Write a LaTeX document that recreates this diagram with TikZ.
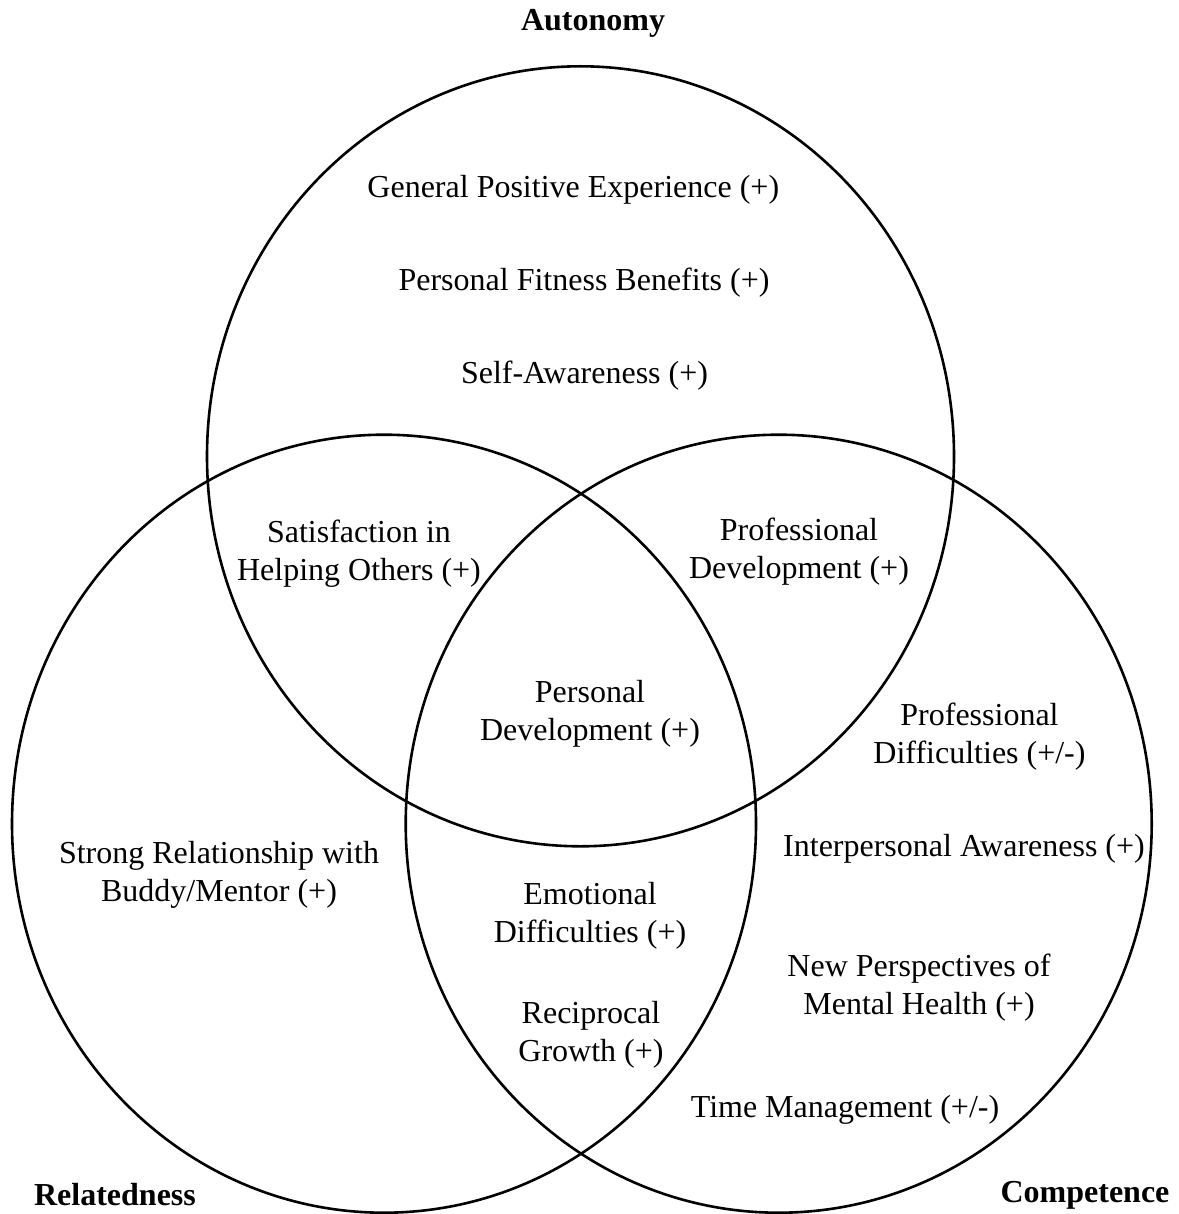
\documentclass[tikz,border=0pt]{standalone}
\usepackage{fontspec}
\setmainfont{Liberation Serif}
\begin{document}
\begin{tikzpicture}[x=1pt,y=-1pt,
  setring/.style={draw=black,line width=2.6pt},
  lbl/.style={inner sep=0pt,align=center,font=\fontsize{32}{38}\selectfont},
  setname/.style={inner sep=0pt,align=center,font=\fontsize{32}{38}\selectfont\bfseries}]
\useasboundingbox (0,0) rectangle (1178,1214);
% sets
\draw[setring] (580.5,456.3) ellipse [x radius=373.5pt, y radius=390pt];
\draw[setring] (384,823.7) ellipse [x radius=372pt, y radius=389pt];
\draw[setring] (778.7,823.7) ellipse [x radius=373pt, y radius=389pt];
% set names
\node[setname] (aut) at (593,23.4) {\strut Autonomy};
\node[setname] (rel) at (115,1197.4) {\strut Relatedness};
\node[setname] (com) at (1085,1194.4) {\strut Competence};
% region labels
\node[lbl] (gpe) at (573.3,189.7) {\strut General Positive Experience (+)};
\node[lbl] (pfb) at (584,283.4) {\strut Personal Fitness Benefits (+)};
\node[lbl] (saw) at (584.5,375.4) {\strut Self-Awareness (+)};
\node[lbl] (sho) at (359,553.9) {\strut Satisfaction in\\\strut Helping Others (+)};
\node[lbl] (prd) at (799,552.3) {\strut Professional\\\strut Development (+)};
\node[lbl] (ped) at (590,713.4) {\strut Personal\\\strut Development (+)};
\node[lbl] (pdi) at (979.5,736.9) {\strut Professional\\\strut Difficulties (+/-)};
\node[lbl] (ipa) at (964,849.1) {\strut Interpersonal Awareness (+)};
\node[lbl] (srb) at (219,874.9) {\strut Strong Relationship with\\\strut Buddy/Mentor (+)};
\node[lbl] (emd) at (590,915.4) {\strut Emotional\\\strut Difficulties (+)};
\node[lbl] (npm) at (919,987.9) {\strut New Perspectives of\\\strut Mental Health (+)};
\node[lbl] (reg) at (591,1034.9) {\strut Reciprocal\\\strut Growth (+)};
\node[lbl] (tim) at (845,1109.4) {\strut Time Management (+/-)};
\end{tikzpicture}
\end{document}
